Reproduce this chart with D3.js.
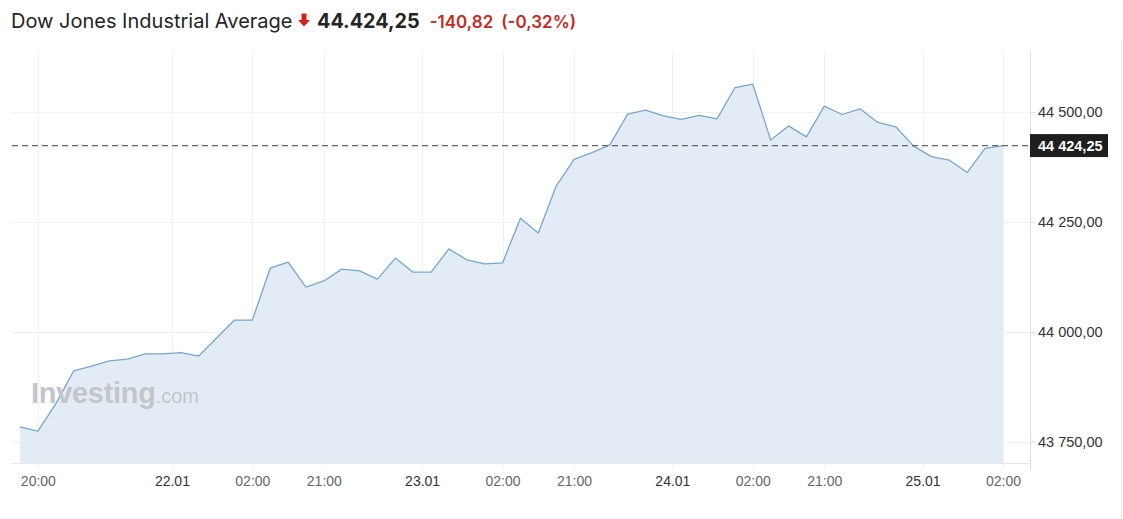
<!DOCTYPE html>
<html><head><meta charset="utf-8">
<script src="https://cdn.jsdelivr.net/npm/d3@7"></script>
<style>
html,body{margin:0;padding:0;background:#fff;}
svg{display:block;}
</style>
</head><body>
<svg id="c" width="1123" height="519"></svg>
<script>
// ---- data ----
const titleName = "Dow Jones Industrial Average";
const lastPrice = "44.424,25";
const change = "-140,82";
const changePct = "(-0,32%)";
const lastValue = 44424.25;
const lastLabel = "44 424,25";

const values = [
  43784, 43774, 43836, 43911, 43922, 43934, 43938, 43950, 43950, 43953,
  43945, 43986, 44027, 44027, 44145, 44159, 44102, 44116, 44143, 44139,
  44120, 44168, 44136, 44136, 44189, 44164, 44155, 44157, 44259, 44225,
  44332, 44393, 44408, 44426, 44496, 44505, 44492, 44484, 44493, 44485,
  44556, 44564, 44437, 44469, 44444, 44514, 44495, 44508, 44477, 44467,
  44423, 44399, 44391, 44363, 44418, 44424.25
];
// x tick positions (in data-point index units) and labels
const xTickPos = [1, 8.5, 13, 17, 22.5, 27, 31, 36.5, 41, 45, 50.5, 55];
const xTickLabels = ["20:00","22.01","02:00","21:00","23.01","02:00","21:00","24.01","02:00","21:00","25.01","02:00"];
const xTickIsDay = [false,true,false,false,true,false,false,true,false,false,true,false];
const yTicks = [43750, 44000, 44250, 44500];
const yTickLabels = ["43 750,00","44 000,00","44 250,00","44 500,00"];

// ---- layout ----
const svg = d3.select("#c");
const plot = {left: 12, right: 1030, top: 52, bottom: 463};
const x = d3.scaleLinear().domain([0, values.length - 1]).range([20, 1003]);
const y = d3.scaleLinear().domain([43750, 44500]).range([441.7, 112.3]);
const axisFont = "'Liberation Sans', Arial, sans-serif";

// title
svg.append("text").attr("x", 11).attr("y", 28)
  .style("font-family", "Inter, 'Noto Sans', sans-serif").style("font-size", "20px")
  .attr("fill", "#232526").text(titleName);
// arrow
svg.append("path")
  .attr("d", "M301.5,13.5 h5 v6.5 h3.5 l-6,6.5 l-6,-6.5 h3.5 z")
  .attr("fill", "#d91e18");
const t2 = svg.append("text").attr("x", 317).attr("y", 28)
  .style("font-family", "Inter, 'Noto Sans', sans-serif");
t2.append("tspan").attr("font-size", "19.8px").attr("font-weight", "700").attr("fill", "#232526").text(lastPrice);
t2.append("tspan").attr("dx", 10).attr("font-size", "17px").attr("font-weight", "600").attr("fill", "#c8281e").text(change);
t2.append("tspan").attr("dx", 8).attr("font-size", "17px").attr("font-weight", "600").attr("fill", "#c8281e").text(changePct);

// outer right border
svg.append("line").attr("x1", 1121.5).attr("x2", 1121.5).attr("y1", 40).attr("y2", 519)
  .attr("stroke", "#e6e6e6");

// grid
const g = svg.append("g");
g.selectAll(".vg").data(xTickPos).join("line")
  .attr("x1", d => Math.round(x(d)) + 0.5).attr("x2", d => Math.round(x(d)) + 0.5)
  .attr("y1", plot.top).attr("y2", plot.bottom + 5)
  .attr("stroke", "#eff2f5");
g.selectAll(".hg").data(yTicks).join("line")
  .attr("x1", plot.left).attr("x2", plot.right + 5)
  .attr("y1", d => Math.round(y(d)) + 0.5).attr("y2", d => Math.round(y(d)) + 0.5)
  .attr("stroke", "#eff2f5");

// area + line
const area = d3.area().x((d, i) => x(i)).y0(plot.bottom).y1(d => y(d));
const line = d3.line().x((d, i) => x(i)).y(d => y(d));
svg.append("path").datum(values).attr("d", area).attr("fill", "#e3ecf5");
svg.append("path").datum(values).attr("d", line).attr("fill", "none")
  .attr("stroke", "#77a6cf").attr("stroke-width", 1.3).attr("stroke-linejoin", "round");

// watermark
const wm = svg.append("text").attr("x", 31).attr("y", 403)
  .style("font-family", axisFont);
wm.append("tspan").attr("font-size", "29px").attr("font-weight", "700").attr("fill", "#c3c6c9")
  .attr("letter-spacing", "-0.3").text("Investing");
wm.append("tspan").attr("font-size", "20px").attr("fill", "#c3c6c9").text(".com");

// x axis line
svg.append("line").attr("x1", plot.left).attr("x2", plot.right)
  .attr("y1", plot.bottom + 0.5).attr("y2", plot.bottom + 0.5).attr("stroke", "#e3e6e9");
// right axis line
svg.append("line").attr("x1", plot.right + 0.5).attr("x2", plot.right + 0.5)
  .attr("y1", plot.top).attr("y2", 470).attr("stroke", "#dcdfe2");

// x labels
const xa = svg.append("g").attr("transform", `translate(0,${plot.bottom})`)
  .call(d3.axisBottom(x).tickValues(xTickPos).tickSize(0)
    .tickFormat((d, i) => xTickLabels[i]));
xa.select(".domain").remove();
xa.selectAll("text").attr("dy", 0).attr("y", 23)
  .style("font-family", axisFont).style("font-size", "14px")
  .attr("fill", (d, i) => xTickIsDay[i] ? "#333" : "#666");

// y labels
const ya = svg.append("g").attr("transform", `translate(${plot.right},0)`)
  .call(d3.axisRight(y).tickValues(yTicks).tickSize(5).tickPadding(3)
    .tickFormat((d, i) => yTickLabels[i]));
ya.select(".domain").remove();
ya.selectAll("line").attr("stroke", "#dcdfe2");
ya.selectAll("text").style("font-family", axisFont)
  .style("font-size", "14.5px").attr("fill", "#333");

// current price line + label
svg.append("line").attr("x1", plot.left).attr("x2", plot.right)
  .attr("y1", y(lastValue)).attr("y2", y(lastValue))
  .attr("stroke", "#666").attr("stroke-width", 1.3).attr("stroke-dasharray", "6,4");
svg.append("rect").attr("x", plot.right).attr("y", y(lastValue) - 11.5)
  .attr("width", 78).attr("height", 23).attr("fill", "#1e1e1e");
svg.append("text").attr("x", plot.right + 8).attr("y", y(lastValue)).attr("dy", "0.35em")
  .style("font-family", axisFont).style("font-size", "14.5px")
  .attr("font-weight", "700").attr("fill", "#fff").text(lastLabel);
</script>
</body></html>
